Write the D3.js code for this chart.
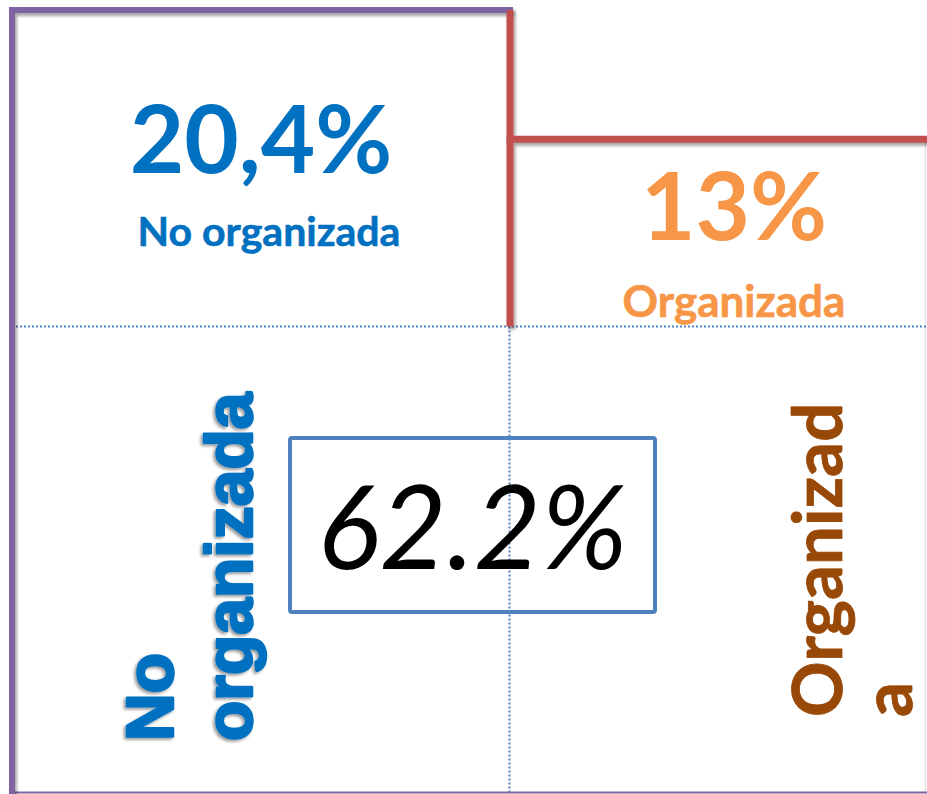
<!DOCTYPE html>
<html lang="es">
  <head>
    <meta charset="utf-8">
    <title>Organizada / No organizada</title>
    <script src="https://cdn.jsdelivr.net/npm/d3@7"></script>
    <style type="text/css">
    body {
      margin: 0;
      background-color: #ffffff;
    }
    .share_value {
      font-family: Lato, "Open Sans", sans-serif;
      font-weight: bold;
      text-anchor: middle;
    }
    .share_name {
      font-family: Lato, "Open Sans", sans-serif;
      font-weight: bold;
      text-anchor: middle;
    }
    .overlap_value {
      font-family: Lato, "Open Sans", sans-serif;
      font-style: italic;
      text-anchor: middle;
      fill: #000000;
    }
    </style>
  </head>
  <body>
    <script type="text/javascript">
    // chart data
    var categories = ["No organizada", "Organizada"];
    var shares = [20.4, 13];
    var shareLabels = ["20,4%", "13%"];
    var overlapValue = 62.2;
    var overlapLabel = "62.2%";
    var sideLabels = [["No", "organizada"], ["Organizad", "a"]];

    var svgWidth = 927;
    var svgHeight = 794;
    var divider = 510;     // column split
    var midline = 326.5;   // row split
    var leftEdge = 12;

    var colors = {
      "No organizada": "#0070c0",
      "Organizada": "#f79646"
    };
    var sideColors = ["#0070c0", "#984807"];
    var stepColors = ["#8064a2", "#c0504d"];

    // column centres for the top labels
    var xScale = d3.scaleOrdinal()
      .domain(categories)
      .range([261, 734]);

    // level of each step line
    var yScale = d3.scaleLinear()
      .domain([0, d3.max(shares)])
      .range([366, 10]);

    var svg = d3.select("body")
      .append("svg")
      .attr("width", svgWidth)
      .attr("height", svgHeight);

    var defs = svg.append("defs");

    //soft shadow under the lines
    var shadow = defs.append("filter")
      .attr("id", "shadow")
      .attr("x", "-20%").attr("y", "-20%")
      .attr("width", "140%").attr("height", "140%");
    shadow.append("feDropShadow")
      .attr("dx", 2)
      .attr("dy", 3)
      .attr("stdDeviation", 1.8)
      .attr("flood-color", "#000000")
      .attr("flood-opacity", 0.35);

    var textShadow = defs.append("filter")
      .attr("id", "textShadow")
      .attr("x", "-10%").attr("y", "-10%")
      .attr("width", "120%").attr("height", "120%");
    textShadow.append("feDropShadow")
      .attr("dx", -2)
      .attr("dy", 2)
      .attr("stdDeviation", 1.5)
      .attr("flood-color", "#000000")
      .attr("flood-opacity", 0.4);

    // faint edge on the right
    svg.append("line")
      .attr("x1", 925.5).attr("x2", 925.5)
      .attr("y1", yScale(shares[1])).attr("y2", svgHeight)
      .attr("stroke", "#e4e4e4")
      .attr("stroke-width", 1.5);

    // dotted quadrant lines
    svg.append("line")
      .attr("x1", leftEdge).attr("x2", svgWidth)
      .attr("y1", midline).attr("y2", midline)
      .attr("stroke", "#4f81bd")
      .attr("stroke-width", 2)
      .attr("stroke-dasharray", "2,2");
    svg.append("line")
      .attr("x1", divider - 0.5).attr("x2", divider - 0.5)
      .attr("y1", midline).attr("y2", svgHeight)
      .attr("stroke", "#4f81bd")
      .attr("stroke-width", 2)
      .attr("stroke-dasharray", "2,2");

    // bottom rule
    svg.append("line")
      .attr("x1", leftEdge).attr("x2", svgWidth)
      .attr("y1", svgHeight - 1.5).attr("y2", svgHeight - 1.5)
      .attr("stroke", stepColors[0])
      .attr("stroke-width", 2);

    // purple frame: left axis + level of first share
    var purple = svg.append("g").attr("filter", "url(#shadow)");
    purple.append("path")
      .attr("d", "M" + leftEdge + "," + svgHeight +
                 "V" + yScale(shares[0]) +
                 "H" + divider)
      .attr("fill", "none")
      .attr("stroke", stepColors[0])
      .attr("stroke-width", 6)
      .attr("stroke-linecap", "square");

    // red step: down from first level, across at second level
    var red = svg.append("g").attr("filter", "url(#shadow)");
    red.append("line")
      .attr("x1", divider).attr("x2", divider)
      .attr("y1", yScale(shares[0])).attr("y2", midline)
      .attr("stroke", stepColors[1])
      .attr("stroke-width", 7);
    red.append("line")
      .attr("x1", divider - 3.5).attr("x2", svgWidth)
      .attr("y1", yScale(shares[1])).attr("y2", yScale(shares[1]))
      .attr("stroke", stepColors[1])
      .attr("stroke-width", 7);

    // top labels
    var valueBase = [173, 240];
    var nameBase = [246, 317];
    var valueSize = [94, 94];
    var nameSize = [41, 44];

    var tops = svg.selectAll("g.top")
      .data(categories)
      .enter()
      .append("g")
      .attr("class", "top");
    tops.append("text")
      .attr("class", "share_value")
      .attr("x", function(d) { return xScale(d); })
      .attr("y", function(d, i) { return valueBase[i]; })
      .attr("font-size", function(d, i) { return valueSize[i]; })
      .attr("fill", function(d) { return colors[d]; })
      .text(function(d, i) { return shareLabels[i]; });
    tops.append("text")
      .attr("class", "share_name")
      .attr("x", function(d, i) { return xScale(d) + (i == 0 ? 8 : 0); })
      .attr("y", function(d, i) { return nameBase[i]; })
      .attr("font-size", function(d, i) { return nameSize[i]; })
      .attr("fill", function(d) { return colors[d]; })
      .attr("stroke", function(d) { return colors[d]; })
      .attr("stroke-width", 0.6)
      .text(function(d) { return d; });

    // overlap box
    var box = { x: 290, y: 438, w: 365, h: 174 };
    svg.append("rect")
      .attr("x", box.x).attr("y", box.y)
      .attr("width", box.w).attr("height", box.h)
      .attr("rx", 2)
      .attr("fill", "none")
      .attr("stroke", "#4f81bd")
      .attr("stroke-width", 4);
    svg.append("text")
      .attr("class", "overlap_value")
      .attr("x", box.x + box.w / 2)
      .attr("y", 569)
      .attr("font-size", 116)
      .attr("data-value", overlapValue)
      .text(overlapLabel);

    // rotated side labels
    var sideSpec = [
      { x: [173, 252], y: 741, size: 66, font: "'Liberation Sans', Arial, sans-serif", shadow: true },
      { x: [842, 912], y: 717, size: 69, font: "Lato, 'Open Sans', sans-serif", shadow: false }
    ];
    sideLabels.forEach(function(lines, k) {
      var spec = sideSpec[k];
      var g = svg.append("g");
      if (spec.shadow) g.attr("filter", "url(#textShadow)");
      lines.forEach(function(line, j) {
        g.append("text")
          .attr("transform", "translate(" + spec.x[j] + "," + spec.y + ") rotate(-90)")
          .attr("font-family", spec.font)
          .attr("font-weight", "bold")
          .attr("font-size", spec.size)
          .attr("fill", sideColors[k])
          .attr("stroke", sideColors[k])
          .attr("stroke-width", k == 0 ? 2.5 : 0.8)
          .attr("stroke-linejoin", "round")
          .text(line);
      });
    });
    </script>
  </body>
</html>
